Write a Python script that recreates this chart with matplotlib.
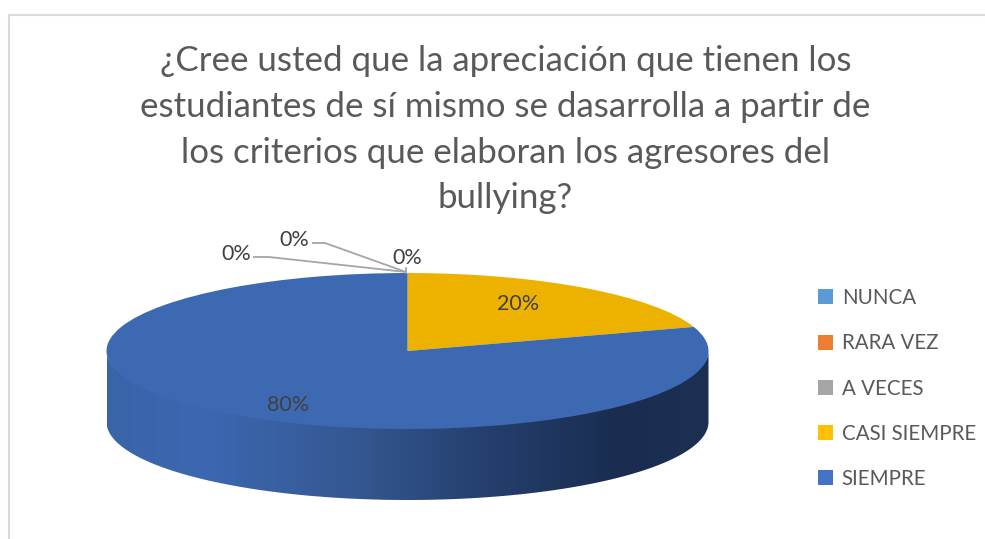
import numpy as np
from matplotlib import pyplot as plt
from matplotlib.colors import LinearSegmentedColormap
from matplotlib.patches import Patch, Polygon

categories = ['NUNCA', 'RARA VEZ', 'A VECES', 'CASI SIEMPRE', 'SIEMPRE']
values = [0, 0, 0, 20, 80]
legend_colors = ['#5b9bd5', '#ed7d31', '#a5a5a5', '#ffc000', '#4472c4']
slice_colors = ['#5b9bd5', '#ed7d31', '#a5a5a5', '#edb100', '#3d69b3']
title_lines = ['¿Cree usted que la apreciación que tienen los',
               'estudiantes de sí mismo se dasarrolla a partir de',
               'los criterios que elaboran los agresores del',
               'bullying?']

W, H = 985, 539
plt.rcParams['font.family'] = ['Lato', 'DejaVu Sans']

fig = plt.figure(figsize=(W / 100, H / 100), dpi=100, facecolor='white')

# pie axes, 1 unit = 301 px in x and 78 px in y, so the circle reads as a flat ellipse
cx, cy, rx, ry, depth = 407.5, 351, 301, 78, 71
left, right, top, bottom = 96.5, 718.5, 260, 510
ax = fig.add_axes([left / W, 1 - bottom / H, (right - left) / W, (bottom - top) / H])

wall_cmap = LinearSegmentedColormap.from_list('wall', [
    (0.00, '#3a64a8'), (0.16, '#3c68b2'), (0.42, '#34578f'),
    (0.62, '#25406f'), (0.85, '#1a2d50'), (1.00, '#1b3053')])

ax.pie(values, colors=slice_colors, startangle=90, counterclock=False, radius=1,
       wedgeprops={'linewidth': 0}, frame=False)
ax.set_aspect('auto')
xmax = (right - left) / 2 / rx
ax.set_xlim(-xmax, xmax)
ax.set_ylim((cy - bottom) / ry, (cy - top) / ry)

# side of the disc, its top edge tucked under the pie so no seam shows
d = depth / ry
t = np.linspace(np.pi, 2 * np.pi, 200)
outline = np.vstack([np.column_stack([np.cos(t), np.sin(t) - d]),
                     np.column_stack([np.cos(t[::-1]), 0.95 * np.sin(t[::-1])])])
wall = Polygon(outline, closed=True, transform=ax.transData, facecolor='none', edgecolor='none')
ax.add_patch(wall)
im = ax.imshow(np.linspace(0, 1, 256).reshape(1, -1), cmap=wall_cmap, aspect='auto',
               extent=(-1, 1, -1 - d, 0), zorder=0.5)
im.set_clip_path(wall)
ax.set_aspect('auto')
ax.set_xlim(-xmax, xmax)
ax.set_ylim((cy - bottom) / ry, (cy - top) / ry)
ax.axis('off')

# overlay in pixel coordinates for frame, title, labels and legend
ov = fig.add_axes([0, 0, 1, 1], facecolor='none')
ov.set_xlim(0, W)
ov.set_ylim(H, 0)
ov.axis('off')

ov.plot([9, 9, W], [H, 15, 15], color='#d9d9d9', lw=1.5, solid_joinstyle='miter')

for line, y in zip(title_lines, [61, 107, 153, 198]):
    ov.text(505.5, y, line, ha='center', va='center', fontsize=25.1, color='#595959')

ov.plot([254, 269, 406], [257, 257, 272], color='#a5a5a5', lw=1.3)
ov.plot([313, 325, 406], [243, 243, 272], color='#a5a5a5', lw=1.3)
ov.plot([406, 406], [268, 273], color='#a5a5a5', lw=1.3)

label_pos = [(236, 254), (294, 240), (407, 258), (518, 304), (288, 405)]
for v, (x, y) in zip(values, label_pos):
    ov.text(x, y, f'{v}%', ha='center', va='center', fontsize=15.5, color='#404040')

handles = [Patch(facecolor=c, edgecolor='none') for c in legend_colors]
ov.legend(handles, categories, loc='upper left', bbox_to_anchor=(818, 288),
          bbox_transform=ov.transData, frameon=False, fontsize=14.8, labelcolor='#595959',
          handlelength=0.75, handleheight=0.75, handletextpad=0.41, labelspacing=1.23,
          borderpad=0, borderaxespad=0)

fig.savefig('out.png', dpi=100)
